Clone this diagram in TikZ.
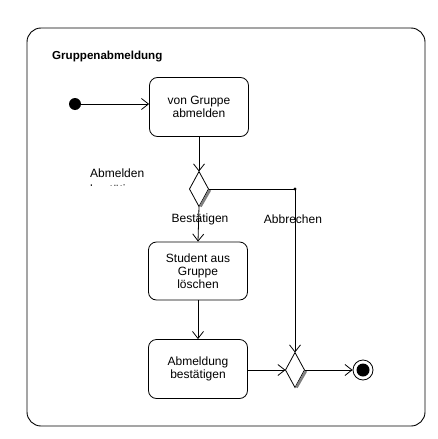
\documentclass[tikz,border=0pt]{standalone}
\usepackage{fontspec}
\setmainfont{Liberation Sans}
\usetikzlibrary{arrows.meta,shapes.geometric,calc}
\begin{document}
\begin{tikzpicture}[x=1pt,y=-1pt,
  every node/.style={font=\fontsize{12}{13}\selectfont},
  act/.style={draw,rounded corners=8pt,minimum width=99pt,minimum height=59pt,align=center,inner sep=0pt,line width=0.8pt},
  dec/.style={draw,diamond,minimum width=19pt,minimum height=35pt,inner sep=0pt,outer sep=0pt,line width=0.8pt},
  arr/.style={line width=0.8pt,-{Straight Barb[length=7pt,width=11pt]}},
  ln/.style={line width=0.8pt},
  lbl/.style={inner sep=0pt}]
\useasboundingbox (0,0) rectangle (438,439);
\draw[line width=0.9pt,rounded corners=14pt] (27,28) rectangle (425,426);
\node[lbl,anchor=west,font=\bfseries\fontsize{11.6}{13}\selectfont] (title) at (52,57) {Gruppenabmeldung};
\node[circle,fill,minimum size=12pt,inner sep=0pt] (start) at (75,104) {};
\node[act] (a1) at (199,107) {von Gruppe\\abmelden};
\node[dec] (d1) at (199,189) {};
\draw[gray,line width=2.5pt] ($(d1.east)+(1.5,1)$) -- ($(d1.south)+(1.5,0)$);
\node[act,minimum height=58pt] (a2) at (198,271) {Student aus\\Gruppe\\löschen};
\node[act] (a3) at (198,369) {Abmeldung\\bestätigen};
\node[dec] (d2) at (295,370) {};
\draw[gray,line width=2.5pt] ($(d2.east)+(1.5,1)$) -- ($(d2.south)+(1.5,0)$);
\node[draw,circle,minimum size=20pt,inner sep=0pt,line width=0.8pt] (end) at (363,370) {};
\node[circle,fill,minimum size=13pt,inner sep=0pt] (endin) at (363,370) {};
\coordinate (corner) at (295,189);
\fill (corner) circle (1.6pt);
\draw[arr] (start) -- (a1.west|-start);
\draw[arr] (a1.south) -- (d1.north);
\draw[arr] (d1.south) -- (a2.north);
\draw[arr] (a2.south) -- (a3.north);
\draw[arr] (a3.east|-d2) -- (d2.west);
\draw[arr] (d2.east) -- (end.west);
\draw[ln] (d1.east) -- (corner);
\draw[arr] (corner) -- (d2.north);
\node[lbl,anchor=west] (l1) at (90,173) {Abmelden};
\begin{scope}
\clip (85,181) rectangle (160,185);
\node[lbl,anchor=base west] (l1b) at (90,193) {bestätigen};
\end{scope}
\node[lbl] (l2) at (200,219) {Bestätigen};
\node[lbl] (l3) at (293,219) {Abbrechen};
\end{tikzpicture}
\end{document}
